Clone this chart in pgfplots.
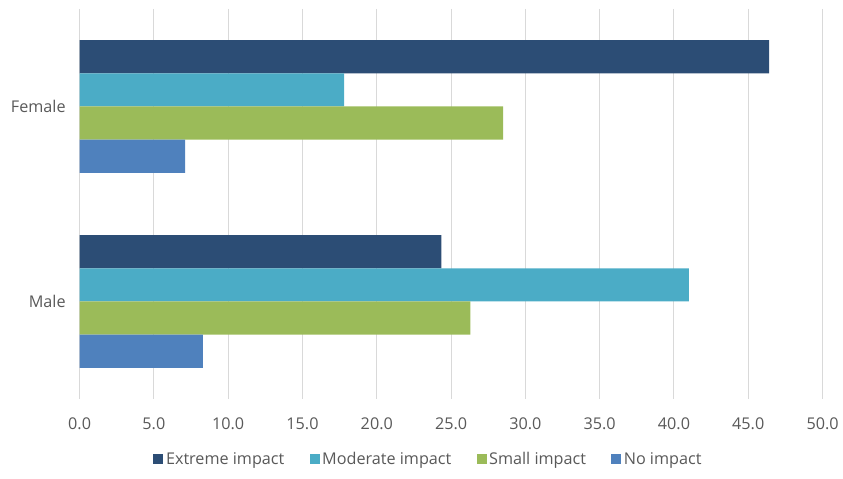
\documentclass[border=0pt]{standalone}
\usepackage{fontspec}
\setmainfont{Open Sans}
\usepackage{pgfplots}
\pgfplotsset{compat=1.18}
\definecolor{cExt}{HTML}{2C4D75}
\definecolor{cMod}{HTML}{4BACC6}
\definecolor{cSmall}{HTML}{9BBB59}
\definecolor{cNo}{HTML}{4F81BD}
\definecolor{gridgray}{HTML}{D9D9D9}
\definecolor{labelgray}{HTML}{595959}
\begin{document}
\begin{tikzpicture}
\begin{axis}[
  scale only axis, width=560pt, height=294pt,
  xbar, xmin=0, xmax=50, ymin=-0.5, ymax=1.5, y dir=reverse,
  ytick={0,1}, yticklabels={Female,Male},
  xtick={0,5,...,50},
  x tick label style={yshift=-10.5pt, /pgf/number format/fixed, /pgf/number format/fixed zerofill, /pgf/number format/precision=1, /pgf/number format/assume math mode=true},
  axis line style={draw=none}, major tick length=0pt,
  xmajorgrids, grid style={color=gridgray, line width=0.8pt},
  tick label style={font=\fontsize{12.2}{14}\selectfont, text=labelgray},
  y tick label style={xshift=-7pt},
  bar width=0.17,
  legend columns=4,
  legend style={draw=none, at={(0.47,-0.155)}, anchor=center, font=\fontsize{12.2}{14}\selectfont, text=labelgray,
    /tikz/every even column/.append style={column sep=17pt}},
  legend image code/.code={\fill[#1] (0pt,-3.4pt) rectangle (7.5pt,4.1pt);},
]
\addplot[fill=cExt, draw=none, bar shift=-0.255] coordinates {(46.4,0) (24.35,1)};
\addplot[fill=cMod, draw=none, bar shift=-0.085] coordinates {(17.8,0) (41.0,1)};
\addplot[fill=cSmall, draw=none, bar shift=0.085] coordinates {(28.5,0) (26.3,1)};
\addplot[fill=cNo, draw=none, bar shift=0.255] coordinates {(7.1,0) (8.3,1)};
\legend{Extreme impact, Moderate impact, Small impact, No impact}
\end{axis}
\path ([xshift=-60pt,yshift=-60pt]current axis.south west) rectangle ([xshift=12pt,yshift=6.75pt]current axis.north east);
\end{tikzpicture}
\end{document}
